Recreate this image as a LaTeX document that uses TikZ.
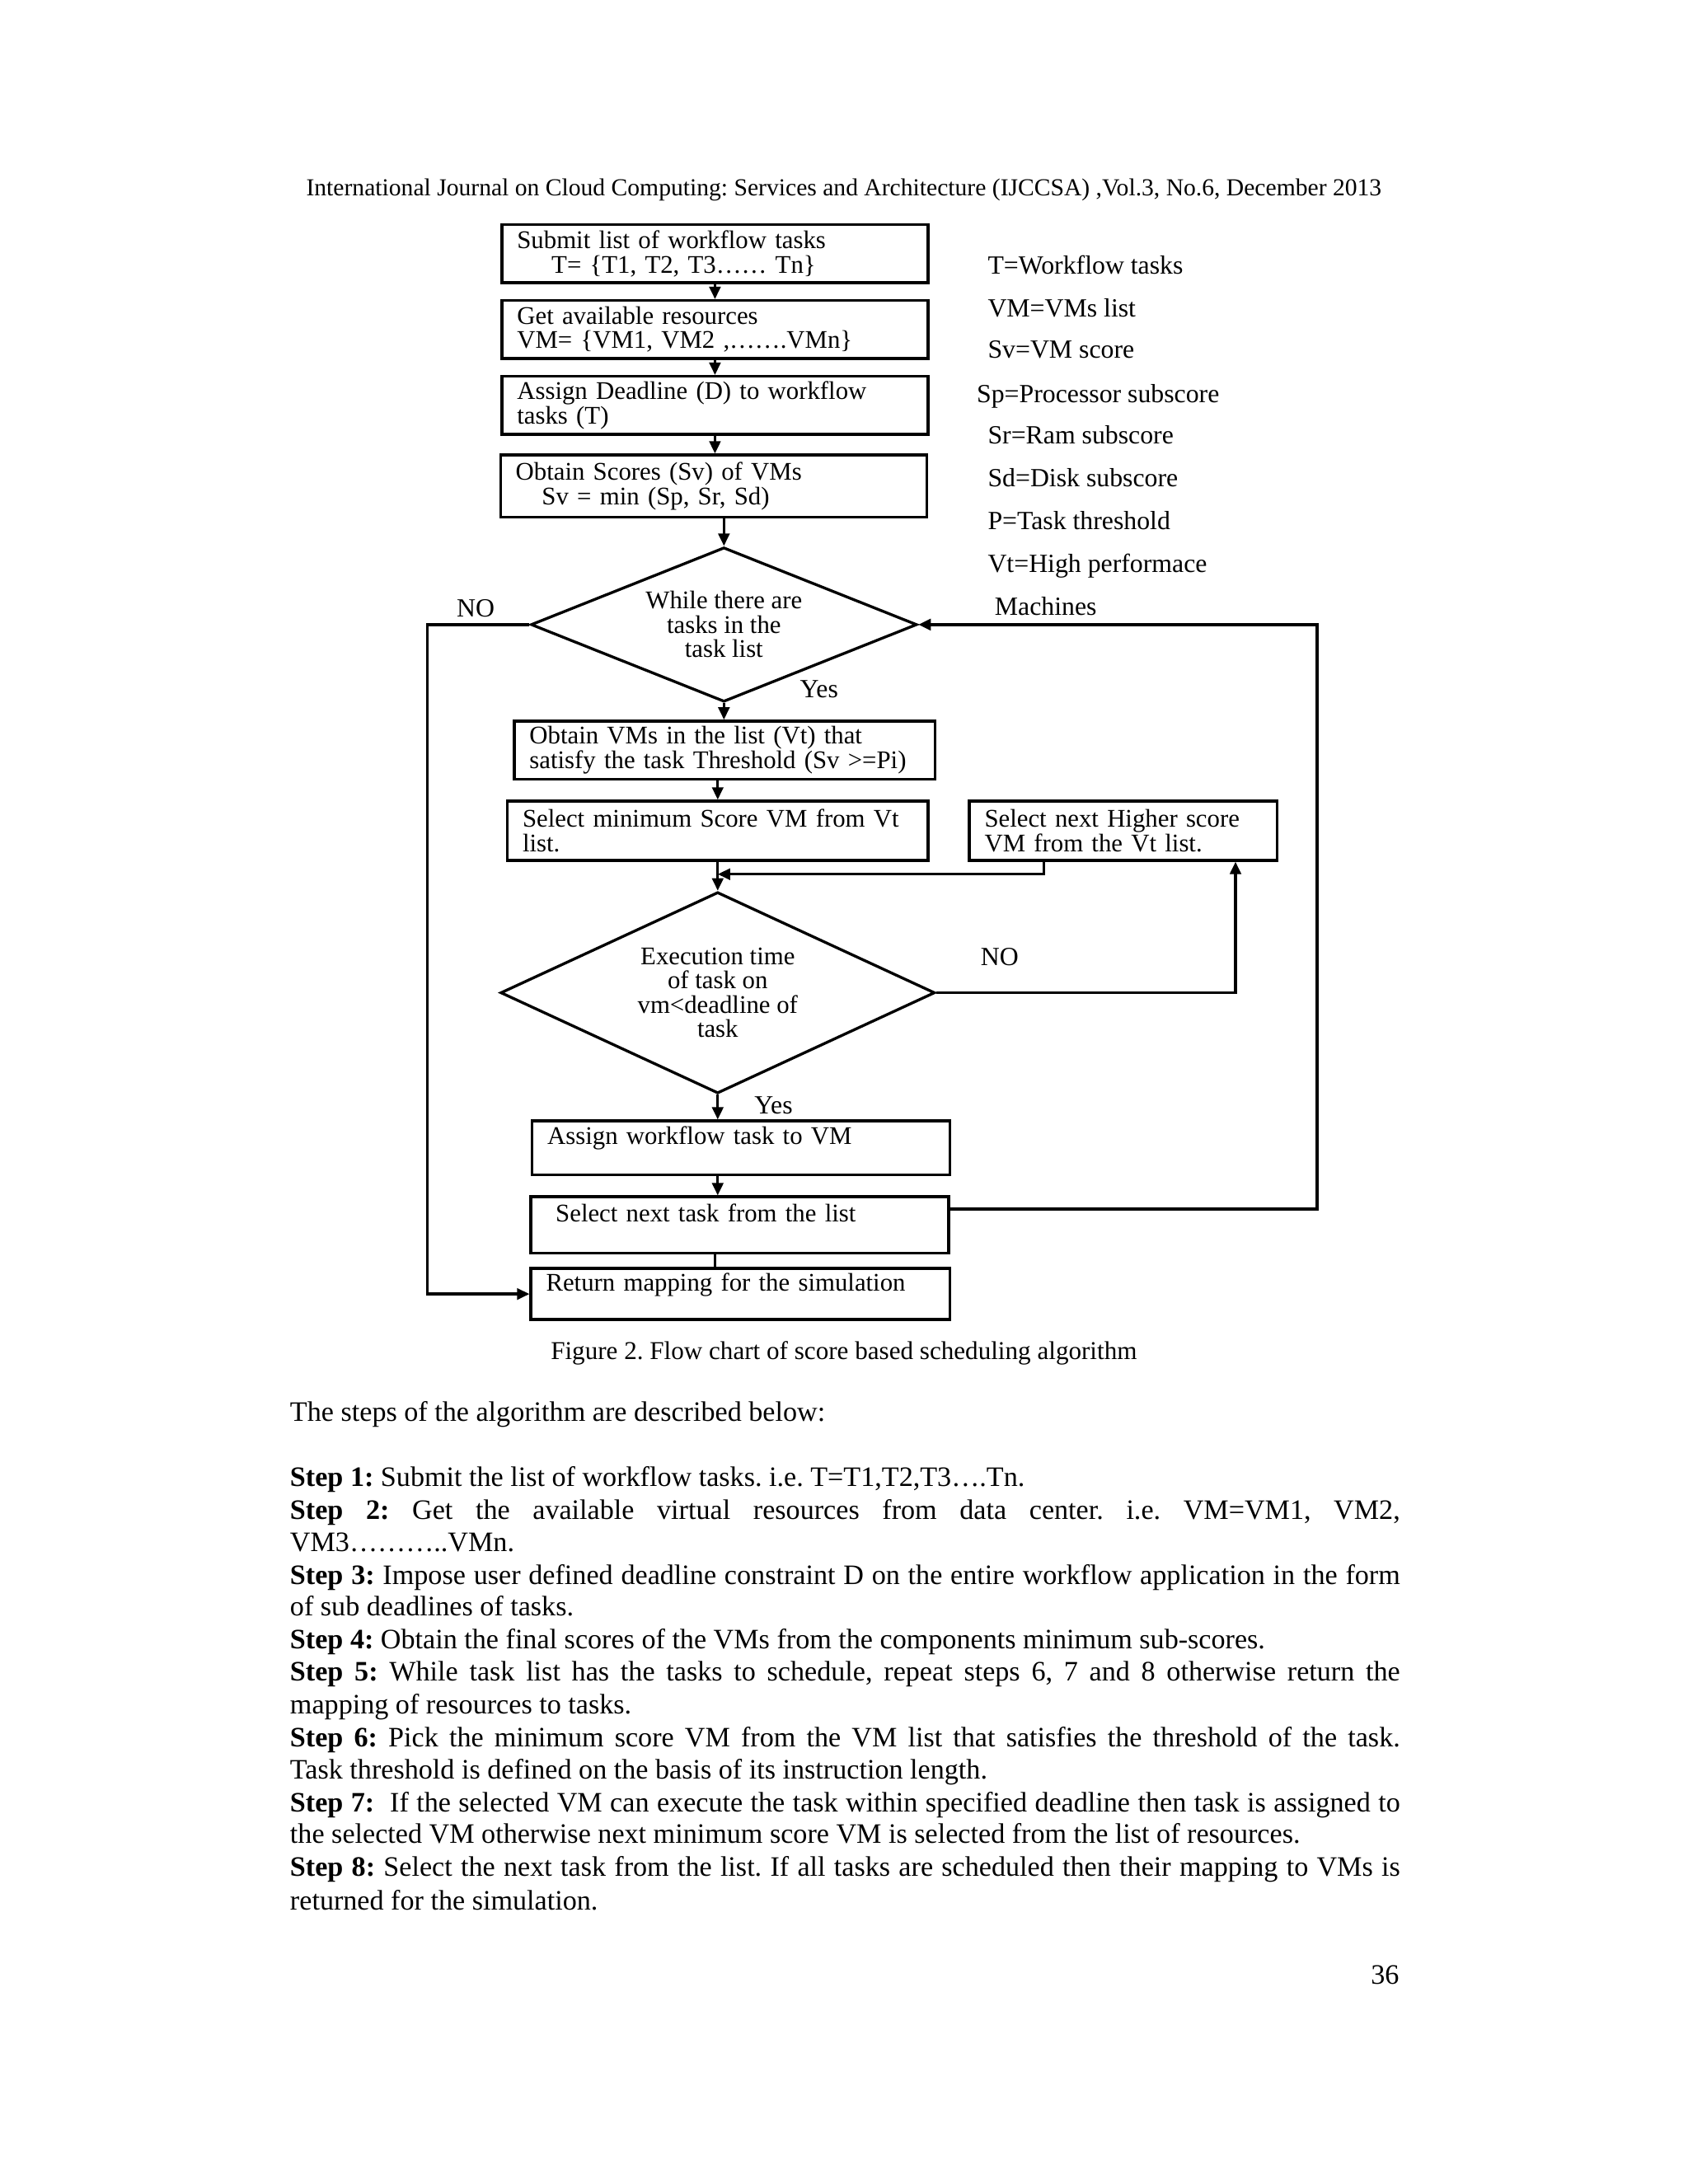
\documentclass[tikz,border=0pt]{standalone}
\usepackage{fontspec}
\setmainfont{Liberation Serif}
\usetikzlibrary{shapes.geometric,arrows.meta,calc}
\frenchspacing
\begin{document}
\begin{tikzpicture}[x=0.5pt,y=-0.5pt,
  box/.style={draw, line width=1pt, rectangle, inner xsep=5.5pt, inner ysep=0pt, align=left,
    font=\fontsize{9.2}{8.8}\selectfont},
  dia/.style={draw, line width=1pt, diamond, inner sep=0pt, align=center,
    font=\fontsize{9.2}{8.8}\selectfont},
  arr/.style={line width=1pt, -{Triangle[length=4.5pt,width=4pt]}},
  ln/.style={line width=1pt},
  lbl/.style={font=\fontsize{9.5}{10}\selectfont, inner sep=0pt},
  leg/.style={font=\fontsize{9.5}{10}\selectfont, inner sep=0pt, anchor=base west},
  body/.style={font=\fontsize{10.2}{11.8}\selectfont, inner sep=0pt, anchor=base west},
  hdrs/.style={font=\fontsize{8.85}{10}\selectfont, inner sep=0pt, anchor=base},
  caps/.style={font=\fontsize{9.3}{10}\selectfont, inner sep=0pt, anchor=base}
]
\useasboundingbox (0,0) rectangle (1224,1584);
\fill[white] (0,0) rectangle (1224,1584);

% header
\node[hdrs] (hdr) at (612,142) {International Journal on Cloud Computing: Services and Architecture (IJCCSA) ,Vol.3, No.6, December 2013};

% boxes
\node[box, minimum height=21pt, text width=143.5pt] (b1) at (518.5,184) {Submit list of workflow tasks\\\hspace*{12.5pt}T= \{T1, T2, T3…… Tn\}};
\node[box, minimum height=21pt, text width=143.5pt] (b2) at (518.5,239) {Get available resources\\VM= \{VM1, VM2 ,…….VMn\}};
\node[box, minimum height=21pt, text width=143.5pt] (b3) at (518.5,294) {Assign Deadline (D) to workflow\\tasks (T)};
\node[box, minimum height=22.5pt, text width=143.5pt] (b4) at (517.5,352.5) {Obtain Scores (Sv) of VMs\\\hspace*{9.5pt}Sv = min (Sp, Sr, Sd)};

\node[dia, minimum width=140pt, minimum height=56pt, shape aspect=2.5] (d1) at (525,453) {While there are\\tasks in the\\task list};

\node[box, minimum height=21pt, text width=141.5pt] (b5) at (525.5,544) {Obtain VMs in the list (Vt) that\\satisfy the task Threshold (Sv >=Pi)};
\node[box, minimum height=21.5pt, text width=141.5pt] (b6) at (520.5,602.5) {Select minimum Score VM from Vt\\list.};
\node[box, minimum height=21.5pt, text width=100.5pt] (b7) at (814.5,602.5) {Select next Higher score\\VM from the Vt list.};

\node[dia, minimum width=157.5pt, minimum height=73pt, shape aspect=2] (d2) at (520.5,720) {Execution time\\of task on\\vm<deadline of\\task};

\node[box, minimum height=19.5pt, text width=140.5pt] (b8) at (537.5,832.5) {Assign workflow task to VM\\\mbox{}};
\node[box, minimum height=20.5pt, text width=140.5pt] (b9) at (536.5,888.5) {\hspace*{3.5pt}Select next task from the list\\\mbox{}};
\node[box, minimum height=18.5pt, text width=141pt] (b10) at (537,938.5) {Return mapping for the simulation\\\mbox{}};

% legend
\node[leg] (l1) at (716,199) {T=Workflow tasks};
\node[leg] (l2) at (716,230) {VM=VMs list};
\node[leg] (l3) at (716,260) {Sv=VM score};
\node[leg] (l4) at (708,292) {Sp=Processor subscore};
\node[leg] (l5) at (716,322) {Sr=Ram subscore};
\node[leg] (l6) at (716,353) {Sd=Disk subscore};
\node[leg] (l7) at (716,384) {P=Task threshold};
\node[leg] (l8) at (716,415) {Vt=High performace};
\node[leg] (l9) at (721,446) {Machines};

% labels
\node[lbl] (no1) at (345,441) {NO};
\node[lbl] (yes1) at (594,500) {Yes};
\node[lbl] (no2) at (725,694) {NO};
\node[lbl] (yes2) at (561,802) {Yes};

% connectors
\draw[arr] (b1) -- (b2);
\draw[arr] (b2) -- (b3);
\draw[arr] (b3.south) -- (b3.south |- b4.north);
\draw[arr] (b4.south -| d1.north) -- (d1.north);
\draw[arr] (d1.south) -- (d1.south |- b5.north);
\draw[arr] (b5.south -| b6.north) -- (b6.north);
\draw[arr] (b6.south) -- (d2.north);
\coordinate (m) at ($(b6.south)!0.43!(d2.north)$);
\coordinate (b7s) at ([xshift=-28.75pt]b7.south);
\draw[arr] (b7s) |- (m);
\draw[arr] (d2.east) -| ([xshift=40.75pt]b7.south);
\draw[arr] (d2.south) -- (d2.south |- b8.north);
\draw[arr] (b8.south -| d2.south) -- (b9.north -| d2.south);
\draw[ln] (b9.south -| b1.south) -- (b10.north -| b1.south);
\draw[arr, line width=1.3pt] ([yshift=5.75pt]b9.east) -- ++(266,0) |- (d1.east);
\draw[arr] (d1.west) -- ++(-74,0) |- (b10.west);

% caption
\node[caps] (cap) at (612,986) {Figure 2. Flow chart of score based scheduling algorithm};

% body text
\node[body] (t0) at (210,1031) {The steps of the algorithm are described below:};
\node[body] (s1) at (210,1078) {\textbf{Step 1:} Submit the list of workflow tasks. i.e. T=T1,T2,T3….Tn.};
\node[body] (s2) at (210,1102) {\makebox[402.5pt][s]{\textbf{Step 2:} Get the available virtual resources from data center. i.e. VM=VM1, VM2,}};
\node[body] (s2b) at (210,1125) {VM3………..VMn.};
\node[body] (s3) at (210,1149) {\makebox[402.5pt][s]{\textbf{Step 3:} Impose user defined deadline constraint D on the entire workflow application in the form}};
\node[body] (s3b) at (210,1172) {of sub deadlines of tasks.};
\node[body] (s4) at (210,1196) {\textbf{Step 4:} Obtain the final scores of the VMs from the components minimum sub-scores.};
\node[body] (s5) at (210,1219) {\makebox[402.5pt][s]{\textbf{Step 5:} While task list has the tasks to schedule, repeat steps 6, 7 and 8 otherwise return the}};
\node[body] (s5b) at (210,1243) {mapping of resources to tasks.};
\node[body] (s6) at (210,1267) {\makebox[402.5pt][s]{\textbf{Step 6:} Pick the minimum score VM from the VM list that satisfies the threshold of the task.}};
\node[body] (s6b) at (210,1290) {Task threshold is defined on the basis of its instruction length.};
\node[body] (s7) at (210,1314) {\makebox[402.5pt][s]{\textbf{Step 7:}\ \ If the selected VM can execute the task within specified deadline then task is assigned to}};
\node[body] (s7b) at (210,1337) {the selected VM otherwise next minimum score VM is selected from the list of resources.};
\node[body] (s8) at (210,1361) {\makebox[402.5pt][s]{\textbf{Step 8:} Select the next task from the list. If all tasks are scheduled then their mapping to VMs is}};
\node[body] (s8b) at (210,1385) {returned for the simulation.};

\node[body, anchor=base east] (pg) at (1015,1439) {36};
\end{tikzpicture}
\end{document}
